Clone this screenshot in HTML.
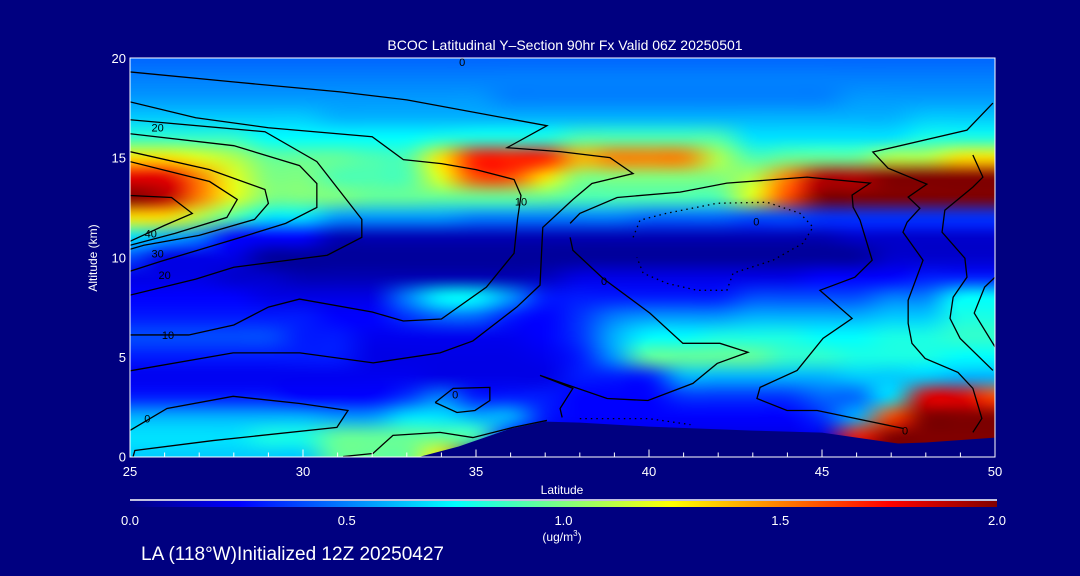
<!DOCTYPE html>
<html><head><meta charset="utf-8">
<style>
html,body{margin:0;padding:0;background:#000080;}
body{width:1080px;height:576px;overflow:hidden;position:relative;font-family:"Liberation Sans",sans-serif;}
#heat{position:absolute;left:130px;top:58px;width:865px;height:399px;}
#chart{position:absolute;left:0;top:0;}
svg text{font-family:"Liberation Sans",sans-serif;}
</style></head>
<body>
<canvas id="heat" width="865" height="399"></canvas>
<svg id="chart" width="1080" height="576" viewBox="0 0 1080 576" xmlns="http://www.w3.org/2000/svg">
<defs>
<clipPath id="plotClip"><rect x="130" y="58" width="865" height="399"/></clipPath>
<linearGradient id="jet" x1="0" x2="1" y1="0" y2="0">
<stop offset="0" stop-color="#000080"/><stop offset="0.125" stop-color="#0000ff"/>
<stop offset="0.375" stop-color="#00ffff"/><stop offset="0.5" stop-color="#80ff80"/>
<stop offset="0.625" stop-color="#ffff00"/><stop offset="0.875" stop-color="#ff0000"/>
<stop offset="1" stop-color="#800000"/></linearGradient>
</defs>
<text x="565" y="50" fill="#fff" font-size="14" text-anchor="middle">BCOC Latitudinal Y–Section 90hr  Fx Valid 06Z 20250501</text>
<g id="terrain-g" clip-path="url(#plotClip)"></g>
<g id="contours" clip-path="url(#plotClip)" fill="none" stroke="#000" stroke-width="1.3"></g>
<rect x="130" y="58" width="865" height="399" fill="none" stroke="#fff" stroke-width="1"/>
<g id="axes"></g>
<text x="0" y="0" transform="translate(97,258) rotate(-90)" fill="#fff" font-size="12" text-anchor="middle">Altitude (km)</text>
<text x="562" y="494" fill="#fff" font-size="12" text-anchor="middle">Latitude</text>
<line x1="130" y1="500" x2="997" y2="500" stroke="#fff" stroke-width="1.5"/>
<rect x="130" y="501" width="867" height="6" fill="url(#jet)"/>
<g id="cbar-labels"></g>
<text x="562" y="541" fill="#fff" font-size="12" text-anchor="middle">(ug/m<tspan font-size="8" dy="-5">3</tspan><tspan dy="5">)</tspan></text>
<text x="141" y="560" fill="#fff" font-size="19">LA (118°W)Initialized 12Z 20250427</text>
</svg>
<script>
const lats = [25,26,27,28,29,30,31,32,33,34,35,36,37,38,39,40,41,42,43,44,45,46,47,48,49,50];
const alts = [20,19,18,17,16,15,14,13,12,11,10,9,8,7,6,5,4,3,2,1,0];
const conc = [
[.45,.45,.45,.45,.45,.45,.45,.45,.45,.45,.45,.45,.45,.45,.45,.45,.45,.45,.45,.45,.45,.45,.45,.45,.45,.45],
[.5,.5,.5,.5,.5,.5,.5,.5,.5,.5,.5,.5,.5,.5,.5,.5,.5,.5,.5,.5,.5,.5,.5,.5,.5,.5],
[.55,.55,.55,.55,.55,.55,.55,.55,.55,.55,.55,.5,.5,.5,.5,.5,.5,.5,.5,.5,.5,.55,.55,.55,.55,.55],
[.65,.65,.65,.65,.65,.65,.6,.6,.6,.6,.6,.6,.6,.6,.6,.6,.6,.6,.6,.6,.6,.6,.6,.65,.65,.65],
[.85,.85,.85,.85,.75,.75,.75,.75,.75,.8,.8,.8,.8,.9,.9,.9,.9,.9,.7,.7,.7,.7,.7,.8,.8,.8],
[1.3,1.3,1.2,1.1,.95,.95,.95,.9,.9,1.3,1.7,1.7,1.7,1.4,1.5,1.5,1.5,1.1,.9,.95,.95,.95,1.1,1.1,1.3,1.3],
[1.8,1.8,1.5,1.2,1.0,1.0,.9,.9,.9,1.2,1.6,1.6,1.3,1.0,1.0,1.0,1.0,1.0,1.1,1.5,1.9,1.9,2.0,2.0,2.0,2.0],
[2.0,1.9,1.5,1.2,1.0,1.0,1.0,.95,.95,.95,.95,.95,.95,.9,.9,.9,.9,.9,1.2,1.6,2.0,2.0,2.0,2.0,2.0,2.0],
[1.3,1.3,1.1,.9,.7,.7,.55,.55,.55,.55,.5,.5,.5,.5,.5,.45,.45,.45,.4,.4,.35,.35,.35,.35,.35,.35],
[.7,.6,.5,.25,.25,.25,.1,.1,.1,.1,.1,.1,.1,.1,.1,.1,.1,.1,.1,.1,.1,.15,.15,.15,.15,.15],
[.4,.2,.2,.2,.05,.05,.05,.05,.05,.05,.05,.05,.05,.05,.05,.05,.05,.05,.05,.05,.05,.05,.15,.15,.15,.15],
[.2,.2,.2,.15,.15,.1,.1,.1,.1,.1,.1,.1,.12,.2,.2,.2,.2,.2,.2,.2,.25,.25,.25,.3,.3,.3],
[.25,.25,.25,.25,.2,.2,.2,.2,.5,.75,.75,.55,.3,.3,.3,.3,.3,.3,.4,.4,.4,.4,.5,.5,.75,.75],
[.3,.3,.3,.3,.3,.3,.25,.25,.35,.45,.45,.3,.25,.35,.5,.55,.55,.55,.6,.6,.6,.6,.65,.65,.8,.8],
[.4,.4,.4,.4,.4,.3,.3,.22,.22,.22,.22,.22,.25,.35,.6,.75,.75,.8,.8,.8,.75,.75,.8,.8,.85,.85],
[.3,.3,.3,.3,.3,.3,.3,.2,.2,.2,.2,.2,.22,.3,.55,.95,.95,.95,.95,.85,.85,.8,.8,.8,.75,.75],
[.22,.22,.22,.22,.22,.22,.22,.22,.22,.2,.2,.2,.2,.3,.3,.3,.6,.6,.6,.6,.6,.65,.65,.65,.6,.6],
[.3,.3,.3,.3,.3,.25,.25,.25,.35,.5,.3,.3,.3,.25,.25,.25,.35,.35,.35,.35,.45,.45,.7,1.8,1.8,1.6],
[.6,.6,.6,.6,.6,.6,.55,.55,.7,.7,.6,.6,.3,.25,.25,.25,.25,.25,.25,.25,.35,.6,1.6,2.0,2.0,2.0],
[.7,.7,.7,.7,.8,.8,.95,.95,.95,.95,.9,.3,.2,.2,.2,.2,.2,.2,.2,.2,.2,1.7,2.0,2.0,2.0,2.0],
[.65,.65,.65,.65,.65,.65,.95,.95,.95,1.3,.1,.1,.1,.1,.1,.1,.1,.1,.1,.1,.1,.1,2.0,2.0,2.0,2.0]
];
const terrainLat = [33.4,34.5,35,36,37,38,40,43,45,46,47.2,48,50];
const terrainAlt = [0,0.5,0.8,1.4,1.75,1.7,1.5,1.3,1.2,0.95,0.65,0.7,0.95];
const contourLines = [
 {dash:false, pts:[[25,19.3],[27.98,18.8],[31.07,18.3],[33,17.9],[37.05,16.6],[35.9,15.5],[37.43,15.3],[38.87,15],[39.54,14.2],[38.35,13.7],[37.8,12.9],[36.93,11.5],[36.85,8.6],[36.18,7.5],[34.91,5.8],[33.96,5.2],[32.03,4.7],[29.91,5.2],[27.98,5.2],[25,4.3]]},
 {dash:false, pts:[[25,17.8],[26.9,17.0],[29,16.5],[32,16.05],[32.9,14.9],[34,14.7],[35,14.4],[36.1,13.9],[36.3,13.1],[36.2,11.9],[36.1,10.2],[35.3,8.5],[34,6.9],[32.9,6.8],[32,7.25],[29.9,7.9],[29,7.5],[28,6.6],[26.7,6.1],[25,6.1]]},
 {dash:false, pts:[[25,16.9],[28.9,16.3],[30.4,14.8],[31.7,11.9],[31.7,11.0],[30.7,10.1],[28,9.5],[26.9,8.9],[25,8.1]]},
 {dash:false, pts:[[25,16.2],[28.0,15.6],[29.9,14.6],[30.4,13.7],[30.4,12.5],[29.5,11.7],[28.2,11.0],[25.9,9.8],[25,9.3]]},
 {dash:false, pts:[[25,15.3],[27.3,14.4],[28.9,13.4],[29.0,12.7],[28.6,11.9],[27.0,11.1],[25.4,10.6],[25,10.4]]},
 {dash:false, pts:[[25,14.8],[27.3,13.8],[28.1,12.9],[27.8,12.0],[26.3,11.2],[25,10.6]]},
 {dash:false, pts:[[25,13.1],[26.2,13.0],[26.8,12.2],[26.0,11.6],[25,10.8]]},
 {dash:false, pts:[[37.72,11.7],[38,12.2],[39.08,13],[40.9,13.27],[42.25,13.72],[44.57,14.02],[46.39,13.72],[45.87,13.12],[45.9,12.51],[46.1,11.86],[46.45,9.85],[45.95,9],[44.94,8.34],[45.87,6.93],[45.03,5.93],[44.28,4.32],[43.21,3.47],[43.12,2.91],[43.99,2.31],[44.86,2.31],[47.34,1.41]]},
 {dash:false, pts:[[37.72,11.0],[37.8,10.35],[38.67,8.94],[40.03,7.19],[40.98,5.68],[42.05,5.68],[42.86,5.23],[41.97,4.67],[41.27,3.67],[39.97,2.81],[38.79,2.91],[36.85,4.07],[37.8,3.42],[37.43,2.41],[37.49,1.96]]},
 {dash:false, pts:[[49.94,17.74],[49.19,16.38],[46.47,15.28],[46.91,14.47],[48.03,13.67],[47.49,13.02],[47.83,12.46],[47.46,11.76],[47.34,11.26],[47.92,9.85],[47.49,7.84],[47.49,6.68],[47.6,5.68],[47.98,4.92],[48.93,4.22],[49.36,3.42],[49.62,1.91],[49.36,1.21]]},
 {dash:false, pts:[[49.36,15.13],[49.65,14.02],[49.36,13.52],[48.55,12.36],[48.47,11.26],[49.13,9.95],[49.19,9.0],[48.79,7.99],[48.7,6.93],[48.99,5.93],[49.94,4.32]]},
 {dash:false, pts:[[25,1.31],[26.07,2.41],[27.98,3.02],[29.91,2.66],[31.3,2.31],[30.98,1.46],[27.4,0.8],[25.14,0.3],[25.09,0]]},
 {dash:false, pts:[[31.16,0],[32.02,0.15],[32.6,1.06],[33.96,1.21],[34.91,0.95],[36.07,1.46],[37.05,1.81]]},
 {dash:false, pts:[[33.82,2.71],[34.34,3.42],[35.4,3.47],[35.4,2.81],[34.97,2.31],[34.45,2.21],[33.82,2.71]]},
 {dash:false, pts:[[50,5.5],[49.4,7.2],[49.7,8.5],[50,9]]},
 {dash:true, pts:[[39.54,11],[39.74,11.86],[40.52,12.21],[41.97,12.71],[43.41,12.76],[44.36,12.21],[44.74,11.51],[44.45,10.7],[43.58,9.85],[42.43,9.2],[42.25,8.34],[41.39,8.34],[40.52,8.69],[39.83,9.2],[39.65,10]]},
 {dash:true, pts:[[38.0,1.9],[40.0,1.9],[41.2,1.6]]}
];
const contourLabelText = ['0','20','40','30','20','10','10','0','0','0','0','0'];
const contourLabelLat = [34.6,25.8,25.6,25.8,26.0,36.3,26.1,25.5,34.4,38.7,43.1,47.4];
const contourLabelAlt = [19.8,16.5,11.2,10.2,9.1,12.8,6.1,1.9,3.1,8.8,11.8,1.3];
const yTicks = [0,5,10,15,20];
const xTicks = [25,30,35,40,45,50];
const cbarTicks = [0.0,0.5,1.0,1.5,2.0];

const X0=130,X1=995,Y0=456.5,Y1=58;
const xScale = l => X0 + (l-25)/(50-25)*(X1-X0);
const yScale = a => Y0 - a/20*(Y0-Y1);
const cScale = v => 130 + v/2*(997-130);
const NS='http://www.w3.org/2000/svg';
function jetRGB(v){
  const t=Math.max(0,Math.min(1,v/2));
  const c=x=>Math.round(255*Math.max(0,Math.min(1,x)));
  return [c(1.5-Math.abs(4*t-3)),c(1.5-Math.abs(4*t-2)),c(1.5-Math.abs(4*t-1))];
}
// heatmap: one pixel per grid cell, scaled with bilinear smoothing
const src=document.createElement('canvas');
src.width=lats.length;src.height=alts.length;
const sctx=src.getContext('2d');
const img=sctx.createImageData(lats.length,alts.length);
alts.forEach((a,i)=>{lats.forEach((l,j)=>{
  const [r,g,b]=jetRGB(conc[i][j]);const k=(i*lats.length+j)*4;
  img.data[k]=r;img.data[k+1]=g;img.data[k+2]=b;img.data[k+3]=255;
});});
sctx.putImageData(img,0,0);
const hc=document.getElementById('heat').getContext('2d');
hc.imageSmoothingEnabled=true;hc.imageSmoothingQuality='high';
const dx=(X1-X0)/(lats.length-1), dy=(Y0-Y1)/(alts.length-1);
hc.drawImage(src,0,0,lats.length,alts.length,
  xScale(lats[0])-dx/2-X0, yScale(alts[0])-dy/2-Y1, lats.length*dx, alts.length*dy);
// terrain
const tp=document.createElementNS(NS,'polygon');
let pts=terrainLat.map((l,k)=>xScale(l)+','+yScale(terrainAlt[k]));
pts.push(xScale(50)+5+','+(yScale(0)+5));pts.push(xScale(terrainLat[0])+','+(yScale(0)+5));
tp.setAttribute('points',pts.join(' '));
tp.setAttribute('fill','#000080');


document.getElementById('terrain-g').appendChild(tp);
// contours
const cg=document.getElementById('contours');
contourLines.forEach(c=>{
  const p=document.createElementNS(NS,'polyline');
  p.setAttribute('points',c.pts.map(q=>xScale(q[0])+','+yScale(q[1])).join(' '));
  if(c.dash){p.setAttribute('stroke-dasharray','1.5 4');}
  
  
  cg.appendChild(p);
});
contourLabelText.forEach((t,k)=>{
  const tx=document.createElementNS(NS,'text');
  tx.setAttribute('x',xScale(contourLabelLat[k]));tx.setAttribute('y',yScale(contourLabelAlt[k])+4);
  tx.setAttribute('fill','#000');tx.setAttribute('stroke','none');tx.setAttribute('font-size','11');
  tx.setAttribute('text-anchor','middle');
  tx.textContent=t;
  
  
  cg.appendChild(tx);
});
// axes
const ax=document.getElementById('axes');
function line(x1,y1,x2,y2,name){
  const l=document.createElementNS(NS,'line');
  l.setAttribute('x1',x1);l.setAttribute('y1',y1);l.setAttribute('x2',x2);l.setAttribute('y2',y2);
  l.setAttribute('stroke','#fff');l.setAttribute('stroke-width','1');
  
  
  ax.appendChild(l);
}
function txt(x,y,s,anchor,size,name,parent){
  const t=document.createElementNS(NS,'text');
  t.setAttribute('x',x);t.setAttribute('y',y);t.setAttribute('fill','#fff');
  t.setAttribute('font-size',size);t.setAttribute('text-anchor',anchor);t.textContent=s;
  
  
  (parent||ax).appendChild(t);
}
for(let l=25;l<=50;l++){ const major=(l%5===0); line(xScale(l),Y0+1,xScale(l),Y0+1-(major?8:5),'x-tick'); }
yTicks.forEach(a=>{ txt(126,yScale(a)+5,String(a),'end',13,'y-tick-label'); });
xTicks.forEach(l=>{ txt(xScale(l),476,String(l),'middle',13,'x-tick-label'); });
cbarTicks.forEach(v=>{ txt(cScale(v),525,v.toFixed(1),'middle',13,'colorbar-tick-label',document.getElementById('cbar-labels')); });
</script>
</body></html>
